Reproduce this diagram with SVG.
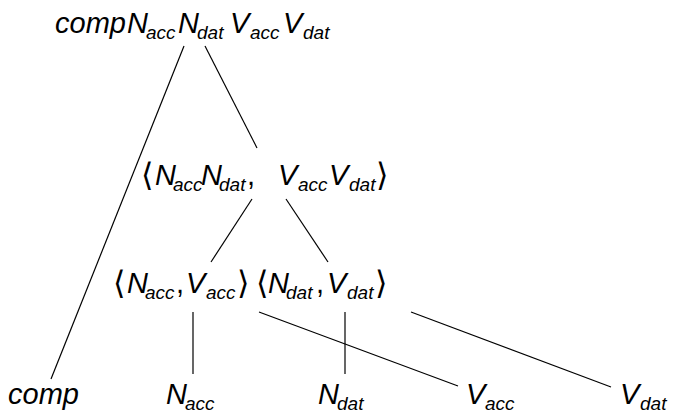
<svg xmlns="http://www.w3.org/2000/svg" width="674" height="415" viewBox="0 0 674 415">
<style>
.t{font-family:"Liberation Sans",Arial,sans-serif;font-style:italic;font-size:29px;fill:#000}
.s{font-size:19px}
.u{font-style:normal}
.b{font-family:"DejaVu Sans",sans-serif;font-style:normal;font-weight:normal;font-size:32px}
.e{stroke:#000;stroke-width:1.2;fill:none}
</style>
<rect width="674" height="415" fill="#fff"/>
<g id="connectors">
<line class="e" x1="184" y1="46" x2="51" y2="379"/>
<line class="e" x1="205" y1="46" x2="257" y2="148"/>
<line class="e" x1="252" y1="199" x2="211" y2="262"/>
<line class="e" x1="286" y1="199" x2="328" y2="262"/>
<line class="e" x1="193" y1="312" x2="193" y2="374"/>
<line class="e" x1="345" y1="312" x2="345" y2="374"/>
<line class="e" x1="259" y1="312" x2="458" y2="386"/>
<line class="e" x1="411" y1="312" x2="611" y2="387"/>
</g>
<g id="root">
<text class="t" y="33"><tspan x="55">comp</tspan><tspan x="127">N</tspan><tspan class="s" x="146" y="39">acc</tspan><tspan x="178" y="33">N</tspan><tspan class="s" x="197" y="39">dat</tspan><tspan x="230" y="33">V</tspan><tspan class="s" x="250" y="39">acc</tspan><tspan x="283" y="33">V</tspan><tspan class="s" x="303" y="39">dat</tspan></text>
</g>
<g id="mid">
<text class="t" y="185"><tspan class="b" x="141" y="186">⟨</tspan><tspan x="155" y="185">N</tspan><tspan class="s" x="173" y="191">acc</tspan><tspan x="201" y="185">N</tspan><tspan class="s" x="219" y="191">dat</tspan><tspan class="u" x="247" y="185">,</tspan><tspan x="278">V</tspan><tspan class="s" x="298" y="191">acc</tspan><tspan x="329" y="185">V</tspan><tspan class="s" x="349" y="191">dat</tspan><tspan class="b" x="376" y="186">⟩</tspan></text>
</g>
<g id="pair-acc">
<text class="t" y="293"><tspan class="b" x="113" y="294">⟨</tspan><tspan x="127" y="293">N</tspan><tspan class="s" x="145" y="299">acc</tspan><tspan class="u" x="176" y="293">,</tspan><tspan x="186">V</tspan><tspan class="s" x="206" y="299">acc</tspan><tspan class="b" x="237" y="294">⟩</tspan></text>
</g>
<g id="pair-dat">
<text class="t" y="293"><tspan class="b" x="256" y="294">⟨</tspan><tspan x="268" y="293">N</tspan><tspan class="s" x="286" y="299">dat</tspan><tspan class="u" x="316" y="293">,</tspan><tspan x="327">V</tspan><tspan class="s" x="347" y="299">dat</tspan><tspan class="b" x="375" y="294">⟩</tspan></text>
</g>
<g id="comp"><text class="t" x="8" y="404">comp</text></g>
<g id="nacc"><text class="t" y="404"><tspan x="166">N</tspan><tspan class="s" x="185" y="410">acc</tspan></text></g>
<g id="ndat"><text class="t" y="404"><tspan x="318">N</tspan><tspan class="s" x="337" y="410">dat</tspan></text></g>
<g id="vacc"><text class="t" y="404"><tspan x="466">V</tspan><tspan class="s" x="485" y="410">acc</tspan></text></g>
<g id="vdat"><text class="t" y="404"><tspan x="620">V</tspan><tspan class="s" x="640" y="410">dat</tspan></text></g>
</svg>
